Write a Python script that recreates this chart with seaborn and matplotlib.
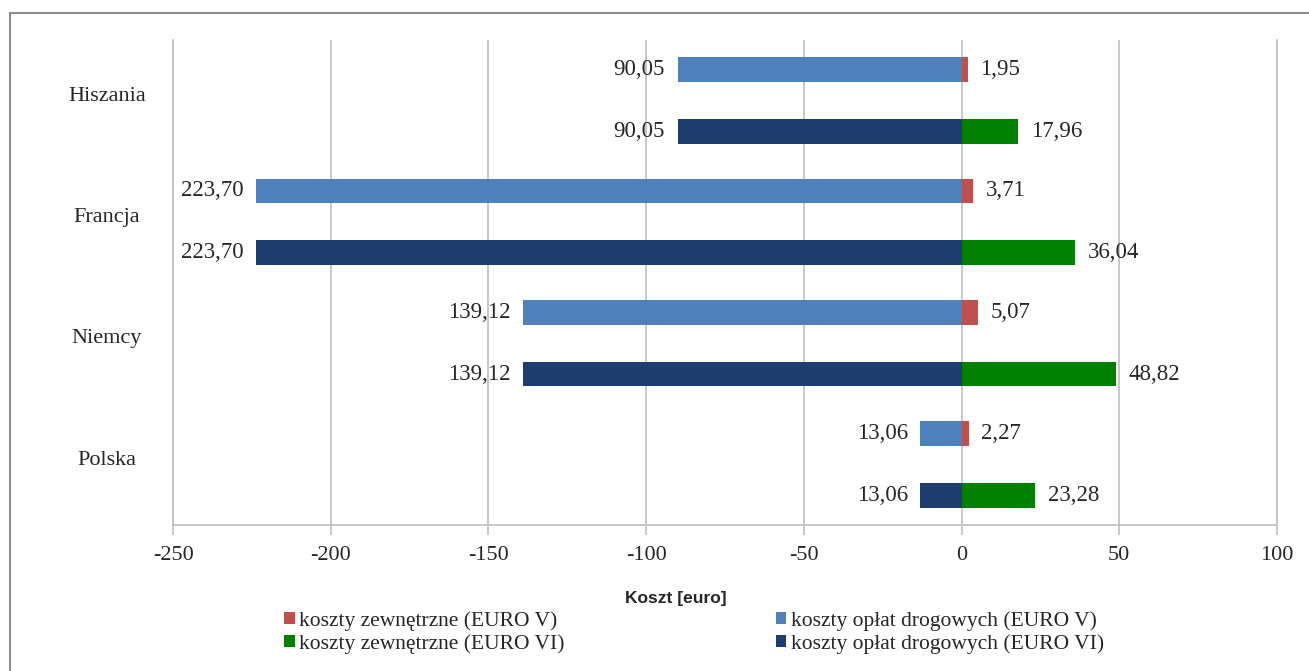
import matplotlib
matplotlib.use("Agg")
import matplotlib.pyplot as plt
import matplotlib.transforms as mtransforms
from matplotlib.patches import Rectangle
import seaborn as sns
import pandas as pd

countries = ["Hiszania", "Francja", "Niemcy", "Polska"]
toll_euro5 = [90.05, 223.70, 139.12, 13.06]
toll_euro6 = [90.05, 223.70, 139.12, 13.06]
ext_euro5 = [1.95, 3.71, 5.07, 2.27]
ext_euro6 = [17.96, 36.04, 48.82, 23.28]

lab_ext5 = "koszty zewnętrzne (EURO V)"
lab_ext6 = "koszty zewnętrzne (EURO VI)"
lab_toll5 = "koszty opłat drogowych (EURO V)"
lab_toll6 = "koszty opłat drogowych (EURO VI)"
xticks = [-250, -200, -150, -100, -50, 0, 50, 100]

sns.set_style("white")
plt.rcParams["font.family"] = ["Liberation Serif", "DejaVu Serif"]
TXT = "#262626"
GRID = "#BFBFBF"

toll_df = pd.DataFrame({
    "country": countries * 2,
    "value": [-v for v in toll_euro5] + [-v for v in toll_euro6],
    "series": [lab_toll5] * 4 + [lab_toll6] * 4,
})
ext_df = pd.DataFrame({
    "country": countries * 2,
    "value": ext_euro5 + ext_euro6,
    "series": [lab_ext5] * 4 + [lab_ext6] * 4,
})

fig = plt.figure(figsize=(13.09, 6.71), dpi=100)
ax = fig.add_axes([173 / 1309, 1 - 525 / 671, (1277 - 173) / 1309, (525 - 40) / 671])

sns.barplot(data=toll_df, x="value", y="country", hue="series", orient="h",
            order=countries, hue_order=[lab_toll5, lab_toll6],
            palette={lab_toll5: "#4F81BD", lab_toll6: "#1C3D6E"},
            width=1.02, gap=0.6, dodge=True, saturation=1, errorbar=None,
            linewidth=0, ax=ax)
sns.barplot(data=ext_df, x="value", y="country", hue="series", orient="h",
            order=countries, hue_order=[lab_ext5, lab_ext6],
            palette={lab_ext5: "#C0504D", lab_ext6: "#008000"},
            width=1.02, gap=0.6, dodge=True, saturation=1, errorbar=None,
            linewidth=0, ax=ax)

for cont in ax.containers:
    labels = [f"{abs(v):.2f}".replace(".", ",") for v in cont.datavalues]
    ax.bar_label(cont, labels=labels, padding=9, fontsize=16.5, color=TXT)

ax.set_xlim(-250, 100)
ax.set_ylim(3.5, -0.5)
ax.set_xticks(xticks)
ax.set_xticklabels([str(t) for t in xticks])
ax.xaxis.grid(True, color=GRID, linewidth=1.2)
ax.yaxis.grid(False)
ax.set_axisbelow(True)
for s in ["left", "right", "bottom"]:
    ax.spines[s].set_visible(True)
    ax.spines[s].set_color(GRID)
    ax.spines[s].set_linewidth(1.2)
ax.spines["top"].set_visible(False)
ax.tick_params(axis="x", which="major", bottom=True, length=7, width=1.2,
               color=GRID, labelsize=16, labelcolor=TXT, pad=8)
ax.tick_params(axis="y", left=False, labelsize=16, labelcolor=TXT, pad=44)
shift = mtransforms.ScaledTranslation(0, 3 / 72, fig.dpi_scale_trans)
for lbl in ax.get_yticklabels():
    lbl.set_ha("center")
    lbl.set_va("center")
    lbl.set_transform(lbl.get_transform() + shift)
ax.set_ylabel("")
ax.set_xlabel("Koszt [euro]", fontsize=12.5, fontweight="bold", color=TXT,
              family=["Liberation Sans", "DejaVu Sans"])
ax.xaxis.label.set_va("center")
ax.xaxis.set_label_coords((676 - 173) / 1104, (525 - 598) / 485)

handles, labels = ax.get_legend_handles_labels()
hmap = dict(zip(labels, handles))
order = [lab_ext5, lab_ext6, lab_toll5, lab_toll6]
ax.legend([hmap[l] for l in order], order, ncol=2, loc="upper center",
          bbox_to_anchor=(694 / 1309, 1 - 611 / 671), bbox_transform=fig.transFigure,
          frameon=False, fontsize=15.5, handlelength=0.5, handleheight=0.5,
          handletextpad=0.2, columnspacing=9.8, labelspacing=0.15,
          labelcolor=TXT, borderaxespad=0, borderpad=0)

fig.patches.append(Rectangle((10 / 1309, -0.05), 1.1, 1 - 13 / 671 + 0.05,
                             transform=fig.transFigure, fill=False,
                             edgecolor="#8C8C8C", linewidth=1.5))

fig.savefig("out.png", dpi=100)
